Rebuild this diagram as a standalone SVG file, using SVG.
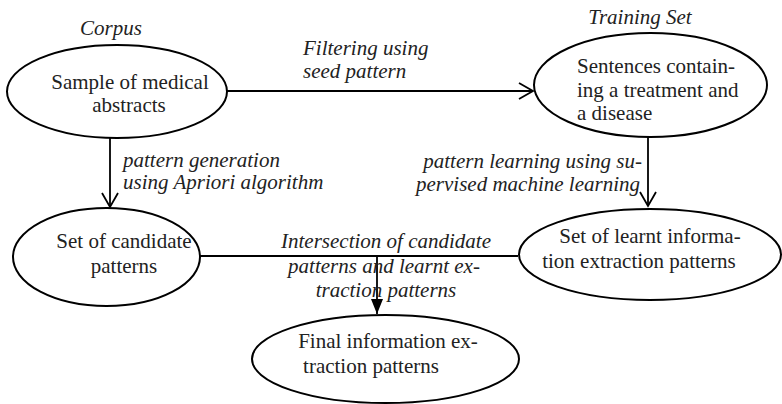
<svg xmlns="http://www.w3.org/2000/svg" width="782" height="404" viewBox="0 0 782 404" font-family="'Liberation Serif', 'Times New Roman', Times, 'DejaVu Serif', serif">
<style>
  .node ellipse { fill: #fff; stroke: #000; stroke-width: 2; }
  text { font-family: 'Liberation Serif', 'Times New Roman', Times, 'DejaVu Serif', serif; font-size: 21px; fill: #222; }
  .it { font-style: italic; }
  .conn line { stroke: #000; stroke-width: 1.8; }
</style>
<defs>
  <marker id="open" viewBox="0 0 16 18" refX="15" refY="9" markerWidth="16" markerHeight="18" markerUnits="userSpaceOnUse" orient="auto" overflow="visible">
    <path d="M1,1 L15,9 L1,17" fill="none" stroke="#000" stroke-width="1.8"/>
  </marker>
  <marker id="filled" viewBox="0 0 15 12" refX="15" refY="6" markerWidth="15" markerHeight="12" markerUnits="userSpaceOnUse" orient="auto" overflow="visible">
    <path d="M0,0 L15,6 L0,12 Z" fill="#000"/>
  </marker>
</defs>
<rect width="782" height="404" fill="#fff"/>

<g id="connectors" class="conn">
  <line x1="226" y1="91" x2="533" y2="91" marker-end="url(#open)"/>
  <line x1="110" y1="138" x2="110" y2="207" marker-end="url(#open)"/>
  <line x1="648" y1="137" x2="648" y2="206" marker-end="url(#open)"/>
  <line x1="200" y1="256" x2="518" y2="256"/>
  <line x1="377" y1="256" x2="377" y2="314" marker-end="url(#filled)"/>
</g>

<g id="labels">
  <text class="it" x="303" y="55">Filtering using</text>
  <text class="it" x="303" y="78">seed pattern</text>
  <text class="it" x="123" y="167">pattern generation</text>
  <text class="it" x="123" y="189">using Apriori algorithm</text>
  <text class="it" x="642" y="168" text-anchor="end">pattern learning using su-</text>
  <text class="it" x="640" y="191" text-anchor="end">pervised machine learning</text>
  <text class="it" x="386" y="248" text-anchor="middle">Intersection of candidate</text>
  <text class="it" x="384" y="273" text-anchor="middle">patterns and learnt ex-</text>
  <text class="it" x="386" y="297" text-anchor="middle">traction patterns</text>
</g>

<g id="node-corpus" class="node">
  <text class="it" x="111" y="35" text-anchor="middle">Corpus</text>
  <ellipse cx="117" cy="91.5" rx="110" ry="46.5"/>
  <text x="130" y="89" text-anchor="middle">Sample of medical</text>
  <text x="129" y="112" text-anchor="middle">abstracts</text>
</g>

<g id="node-training" class="node">
  <text class="it" x="640" y="24" text-anchor="middle">Training Set</text>
  <ellipse cx="650.5" cy="85" rx="116.5" ry="52"/>
  <text x="577" y="73">Sentences contain-</text>
  <text x="577" y="97">ing a treatment and</text>
  <text x="577" y="120">a disease</text>
</g>

<g id="node-candidate" class="node">
  <ellipse cx="106.5" cy="257" rx="93.5" ry="49"/>
  <text x="124" y="248" text-anchor="middle">Set of candidate</text>
  <text x="124" y="273" text-anchor="middle">patterns</text>
</g>

<g id="node-learnt" class="node">
  <ellipse cx="650" cy="254.5" rx="131" ry="45.5"/>
  <text x="650" y="243" text-anchor="middle">Set of learnt informa-</text>
  <text x="639" y="268" text-anchor="middle">tion extraction patterns</text>
</g>

<g id="node-final" class="node">
  <ellipse cx="385.5" cy="359" rx="133.5" ry="44"/>
  <text x="388" y="348" text-anchor="middle">Final information ex-</text>
  <text x="371" y="373" text-anchor="middle">traction patterns</text>
</g>
</svg>
